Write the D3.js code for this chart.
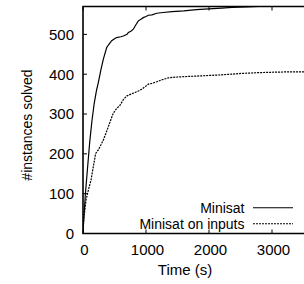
<!DOCTYPE html>
<html><head><meta charset="utf-8">
<script src="https://cdn.jsdelivr.net/npm/d3@7"></script>
<style>body{margin:0;background:#fff}svg{display:block}text{font-family:"Liberation Sans",Arial,Helvetica,sans-serif;font-size:15px;fill:#000}</style>
</head><body><svg id="c" width="304" height="284"></svg>
<script>
const xTicks=[0,1000,2000,3000];
const yTicks=[0,100,200,300,400,500];
const minisatT=[0,5,16,38,75,107,140,178,215,243,283,323,376,420,455,500,534,600,640,700,720,760,799,840,878,920,957,1000,1037,1095,1169,1270,1413,1600,1800,1995,2200,2365,2600,2789,3000,3600];
const minisatN=[0,20,45,100,170,230,280,327,360,379,410,438,467,477,484,489,492,494,496,500,505,508,513,524,534,538,542,545,548,549,553,555,557,559,562,564,566,568,569,570,570,570];
const inputsT=[0,5,16,48,85,127,164,201,243,283,323,360,402,440,481,530,587,640,693,760,825,880,931,980,1037,1095,1169,1254,1360,1500,1625,1900,2154,2350,2524,2800,3027,3300,3600];
const inputsN=[0,17,42,84,109,134,168,201,210,222,235,250,268,285,302,313,322,336,345,350,354,358,362,368,375,377,381,386,391,393,394,396,398,400,402,404,405,406,406];
const series=[{name:"Minisat",t:minisatT,n:minisatN,dash:null},{name:"Minisat on inputs",t:inputsT,n:inputsN,dash:"2,1"}];

const svg=d3.select("#c");
const x=d3.scaleLinear().domain([0,3600]).range([83,309.8]);
const y=d3.scaleLinear().domain([0,570]).range([233.5,6.5]);
const L=83,R=309.8,T=6.5,B=233.5;

svg.append("defs").append("clipPath").attr("id","cp").append("rect").attr("x",L).attr("y",T).attr("width",R-L).attr("height",B-T);

const tk=4;
xTicks.forEach(v=>{
  svg.append("line").attr("x1",x(v)).attr("x2",x(v)).attr("y1",B).attr("y2",B-tk).attr("stroke","#000").attr("stroke-width",1);
  svg.append("line").attr("x1",x(v)).attr("x2",x(v)).attr("y1",T).attr("y2",T+tk).attr("stroke","#000").attr("stroke-width",1);
  svg.append("text").attr("x",x(v)+1.5).attr("y",255).attr("text-anchor","middle").text(v);
});
yTicks.forEach(v=>{
  svg.append("line").attr("x1",L).attr("x2",L+tk).attr("y1",y(v)).attr("y2",y(v)).attr("stroke","#000").attr("stroke-width",1);
  svg.append("text").attr("x",74).attr("y",y(v)).attr("dy","0.36em").attr("text-anchor","end").text(v);
});

const line=d3.line().x(d=>x(d[0])).y(d=>y(d[1]));
const g=svg.append("g").attr("clip-path","url(#cp)");
series.forEach(s=>{
  g.append("path").datum(s.t.map((t,i)=>[t,s.n[i]])).attr("d",line).attr("fill","none").attr("stroke","#000").attr("stroke-width",1.2).attr("stroke-dasharray",s.dash);
});

svg.append("path").attr("d",`M${R},${T}H${L}V${B}H${R}`).attr("fill","none").attr("stroke","#000").attr("stroke-width",1.6);

series.forEach((s,i)=>{
  const yy=[207.8,223.8][i];
  svg.append("text").attr("x",244.5).attr("y",yy+5).attr("text-anchor","end").style("font-size","14px").text(s.name);
  svg.append("line").attr("x1",253).attr("x2",293).attr("y1",yy).attr("y2",yy).attr("stroke","#000").attr("stroke-width",1.1).attr("stroke-dasharray",s.dash);
});

svg.append("text").attr("x",185).attr("y",275).attr("text-anchor","middle").text("Time (s)");
svg.append("text").attr("transform","translate(32,125) rotate(-90)").attr("text-anchor","middle").style("font-size","14px").text("#instances solved");
</script></body></html>
